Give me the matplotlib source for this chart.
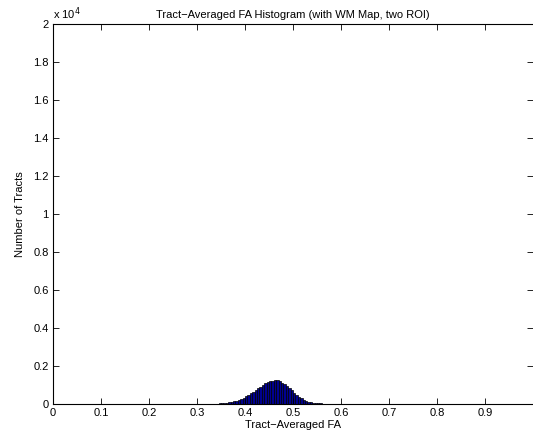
import numpy as np
import matplotlib
matplotlib.use("Agg")
import matplotlib.pyplot as plt
from matplotlib.ticker import FuncFormatter

plt.rcParams['font.family'] = ['Liberation Sans', 'DejaVu Sans']

# histogram data: bin width 0.005 starting at 0.32
bin_start = 0.32
bin_width = 0.005
counts = [15, 15, 20, 20, 25, 30, 35, 45, 60, 80,
          110, 140, 170, 200, 250, 320, 400, 480, 560, 650,
          740, 830, 920, 1000, 1080, 1140, 1190, 1230, 1250, 1240,
          1200, 1130, 1040, 940, 830, 720, 600, 490, 390, 300,
          220, 160, 120, 85, 60, 45, 35, 30, 25, 20,
          20, 15, 15, 10]
x_ticks = [0, 0.1, 0.2, 0.3, 0.4, 0.5, 0.6, 0.7, 0.8, 0.9]
y_ticks = [0, 2000, 4000, 6000, 8000, 10000, 12000, 14000, 16000, 18000, 20000]

edges = bin_start + bin_width * np.arange(len(counts) + 1)

fig = plt.figure(figsize=(5.33, 4.36), dpi=100)
ax = fig.add_axes([53 / 533, 32 / 436, 480 / 533, 380 / 436])

ax.hist(edges[:-1], bins=edges, weights=counts,
        facecolor=(0, 0, 0.5625), edgecolor='black', linewidth=0.5)

ax.set_xlim(0, 1)
ax.set_ylim(0, 20000)
ax.set_xticks(x_ticks)
ax.set_xticklabels([f"{t:g}" for t in x_ticks])
ax.set_yticks(y_ticks)
ax.yaxis.set_major_formatter(FuncFormatter(lambda v, p: f"{v / 1e4:g}"))

ax.tick_params(direction='in', length=4, width=0.6, labelsize=8,
               top=True, right=True, pad=3)
for s in ax.spines.values():
    s.set_linewidth(0.8)
# right edge of the box falls outside the image in the original
ax.spines['right'].set_visible(False)

ax.text(0.0, 1.005, r"x 10$^4$", transform=ax.transAxes, fontsize=8,
        ha='left', va='bottom')
ax.set_title("Tract\u2212Averaged FA Histogram (with WM Map, two ROI)",
             fontsize=8, pad=4)
ax.set_xlabel("Tract\u2212Averaged FA", fontsize=8, labelpad=1)
ax.set_ylabel("Number of Tracts", fontsize=8, labelpad=6)

fig.savefig("out.png", dpi=100, facecolor='white')
